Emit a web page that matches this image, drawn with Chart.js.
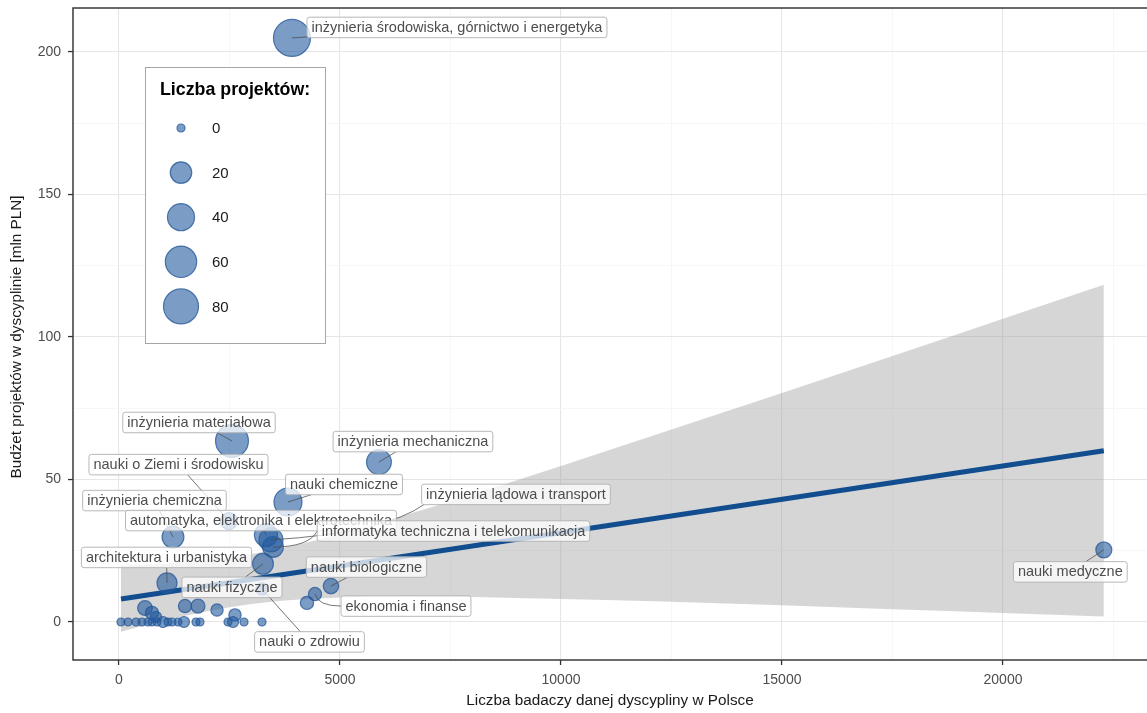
<!DOCTYPE html>
<html lang="pl">
<head>
<meta charset="utf-8">
<title>Budżet projektów a liczba badaczy w dyscyplinie</title>
<script src="https://cdn.jsdelivr.net/npm/chart.js@4.4.1/dist/chart.umd.min.js"></script>
<style>
  html, body { margin: 0; padding: 0; background: #ffffff; }
  #wrap { width: 1147px; height: 713px; }
</style>
</head>
<body>
<div id="wrap"><canvas id="chart" width="1147" height="713"></canvas></div>
<script>
// ---- dane: jedna pozycja na dyscyplinę (pusta nazwa = punkt bez etykiety) ----
const disciplines = [
  'inżynieria środowiska, górnictwo i energetyka',
  'inżynieria materiałowa',
  'inżynieria mechaniczna',
  'nauki chemiczne',
  'nauki o Ziemi i środowisku',
  'inżynieria chemiczna',
  'automatyka, elektronika i elektrotechnika',
  'informatyka techniczna i telekomunikacja',
  'inżynieria lądowa i transport',
  'architektura i urbanistyka',
  'nauki fizyczne',
  'nauki o zdrowiu',
  'nauki biologiczne',
  'ekonomia i finanse',
  'nauki medyczne',
  '', '', '', '', '', '', '', '',
  '', '', '', '', '', '', '', '', '', '', '', '', '', '', '', '', '', ''
];
// liczba badaczy danej dyscypliny w Polsce
const researchers = [
  3913, 2556, 5881, 3823, 2488, 1221, 3325, 3483, 3438, 1086, 3257, 3235, 4795, 4434, 22281,
  4253, 588, 746, 1493, 1787, 2217, 2624, 837,
  45, 204, 385, 520, 656, 746, 860, 995, 1108, 1199, 1335, 1470, 1742, 1832, 2466, 2579, 2828, 3235
];
// budżet projektów w dyscyplinie [mln PLN]
const budget = [
  204.9, 63.5, 56.1, 42.1, 35.4, 29.8, 30.5, 26.3, 28.8, 13.7, 20.4, 11.6, 12.6, 9.8, 25.3,
  6.7, 4.9, 3.2, 5.6, 5.6, 4.2, 2.5, 1.8,
  0, 0, 0, 0, 0, 0, 0, 0, 0, 0, 0, 0, 0, 0, 0, 0, 0, 0
];
// liczba projektów
const projects = [
  92, 68, 31, 44, 9, 21, 25, 18, 28, 16, 18, 2, 6, 3, 7,
  3, 5, 3, 3, 4, 2, 2, 1,
  0, 0, 0, 0, 0, 0, 0, 1, 0, 0, 0, 1, 0, 0, 0, 1, 0, 0
];

// linia trendu (regresja liniowa) i pasmo ufności
const trendX = [45, 22281];
const trendY = [8.1, 60.1];
const bandX     = [45,   1000, 2000, 3000, 4000, 5000, 6500, 8000, 10000, 12500, 15000, 17500, 20000, 22281];
const bandUpper = [19.8, 20.4, 21.8, 23.9, 27.0, 31.0, 37.6, 44.8, 54.7,  67.5,  80.3,  93.3,  106.4, 118.3];
const bandLower = [-3.4, 0.4,  3.8,  6.3,  7.8,  8.6,  9.0,  8.8,  8.1,   7.1,   5.9,   4.5,   3.2,   1.9];

// podziałki osi
const xMajorTicks = [0, 5000, 10000, 15000, 20000];
const xMinorTicks = [2500, 7500, 12500, 17500, 22500];
const yMajorTicks = [0, 50, 100, 150, 200];
const yMinorTicks = [25, 75, 125, 175];

// wartości pokazane w legendzie rozmiaru
const legendCounts = [0, 20, 40, 60, 80];

// ---- wygląd ----
const FONT = '"Liberation Sans", Arial, Helvetica, sans-serif';
const BUBBLE_FILL = 'rgba(33, 90, 158, 0.6)';
const BUBBLE_STROKE = 'rgba(38, 88, 152, 0.78)';
const TREND_COLOR = '#124e8f';
const BAND_COLOR = 'rgba(153, 153, 153, 0.4)';
const GRID_MAJOR = '#e6e6e6';
const GRID_MINOR = '#f3f3f3';

// skala rozmiaru: promień rośnie z pierwiastkiem liczby projektów
function sizeFor(n) { return 4 + 1.51 * Math.sqrt(n); }

// rozmieszczenie etykiet: przesunięcie środka ramki względem punktu [px],
// opcjonalnie punkt kontrolny krzywej (względem punktu) i koniec odnośnika (względem środka ramki)
const labelLayout = {
  'inżynieria środowiska, górnictwo i energetyka': { dx: 165, dy: -10.5 },
  'inżynieria materiałowa': { dx: -33, dy: -18.5 },
  'inżynieria mechaniczna': { dx: 34, dy: -20.5 },
  'nauki chemiczne': { dx: 56, dy: -17.5 },
  'nauki o Ziemi i środowisku': { dx: -50.5, dy: -56.5 },
  'inżynieria chemiczna': { dx: -18.5, dy: -36.5 },
  'automatyka, elektronika i elektrotechnika': { dx: -5, dy: -14.5 },
  'informatyka techniczna i telekomunikacja': { dx: 180.5, dy: -16, ctrl: [36, 0], end: 'left' },
  'inżynieria lądowa i transport': { dx: 245, dy: -45.5, ctrl: [114, -7], end: [-91, 9.5] },
  'architektura i urbanistyka': { dx: -0.5, dy: -25.5 },
  'nauki fizyczne': { dx: -31, dy: 23.5 },
  'nauki o zdrowiu': { dx: 47.5, dy: 53 },
  'nauki biologiczne': { dx: 35.5, dy: -19 },
  'ekonomia i finanse': { dx: 91, dy: 12, ctrl: [3, 12], end: 'left' },
  'nauki medyczne': { dx: -33.5, dy: 22 }
};

const bubblePoints = researchers.map((v, i) => ({ x: v, y: budget[i], r: sizeFor(projects[i]) }));
const trendPoints = trendX.map((v, i) => ({ x: v, y: trendY[i] }));
const upperPoints = bandX.map((v, i) => ({ x: v, y: bandUpper[i] }));
const lowerPoints = bandX.map((v, i) => ({ x: v, y: bandLower[i] }));

// przecięcie odcinka punkt -> środek ramki z brzegiem ramki
function clipToBox(px, py, cx, cy, w, h) {
  const dx = px - cx, dy = py - cy;
  const tx = dx !== 0 ? (w / 2) / Math.abs(dx) : Infinity;
  const ty = dy !== 0 ? (h / 2) / Math.abs(dy) : Infinity;
  const t = Math.min(tx, ty, 1);
  return { x: cx + dx * t, y: cy + dy * t };
}

function roundRect(ctx, x, y, w, h, r) {
  ctx.beginPath();
  ctx.moveTo(x + r, y);
  ctx.lineTo(x + w - r, y);
  ctx.arcTo(x + w, y, x + w, y + r, r);
  ctx.lineTo(x + w, y + h - r);
  ctx.arcTo(x + w, y + h, x + w - r, y + h, r);
  ctx.lineTo(x + r, y + h);
  ctx.arcTo(x, y + h, x, y + h - r, r);
  ctx.lineTo(x, y + r);
  ctx.arcTo(x, y, x + r, y, r);
  ctx.closePath();
}

// etykiety w ramkach z odnośnikami
const labelPlugin = {
  id: 'boxedLabels',
  afterDatasetsDraw(chart) {
    const { ctx, scales: { x, y } } = chart;
    const LABEL_FONT = '14.5px ' + FONT;
    const PADX = 4.5, BOX_H = 20.5;
    ctx.save();
    ctx.font = LABEL_FONT;
    const items = [];
    disciplines.forEach((name, i) => {
      const lay = labelLayout[name];
      if (!name || !lay) return;
      const px = x.getPixelForValue(researchers[i]);
      const py = y.getPixelForValue(budget[i]);
      const w = ctx.measureText(name).width + 2 * PADX;
      items.push({ name, px, py, cx: px + lay.dx, cy: py + lay.dy, w, h: BOX_H, lay });
    });

    // odnośniki
    ctx.strokeStyle = '#4a4a4a';
    ctx.lineWidth = 0.75;
    items.forEach(it => {
      let end;
      if (it.lay.end === 'left') end = { x: it.cx - it.w / 2, y: it.cy };
      else if (Array.isArray(it.lay.end)) end = { x: it.cx + it.lay.end[0], y: it.cy + it.lay.end[1] };
      else end = clipToBox(it.px, it.py, it.cx, it.cy, it.w, it.h);
      ctx.beginPath();
      ctx.moveTo(it.px, it.py);
      if (it.lay.ctrl) ctx.quadraticCurveTo(it.px + it.lay.ctrl[0], it.py + it.lay.ctrl[1], end.x, end.y);
      else ctx.lineTo(end.x, end.y);
      ctx.stroke();
    });

    // ramki i teksty
    ctx.textAlign = 'left';
    ctx.textBaseline = 'middle';
    items.forEach(it => {
      const l = it.cx - it.w / 2, t = it.cy - it.h / 2;
      roundRect(ctx, l, t, it.w, it.h, 2.5);
      ctx.fillStyle = 'rgba(255,255,255,0.75)';
      ctx.fill();
      ctx.strokeStyle = '#b0b0b0';
      ctx.lineWidth = 0.9;
      ctx.stroke();
      ctx.fillStyle = '#4d4d4d';
      ctx.fillText(it.name, l + PADX, it.cy + 0.5);
    });
    ctx.restore();
  }
};

// ramka panelu, tytuły osi i legenda rozmiaru
const framePlugin = {
  id: 'panelFrame',
  afterDraw(chart) {
    const { ctx, chartArea: a } = chart;
    ctx.save();
    // ramka panelu
    ctx.strokeStyle = '#3a3a3a';
    ctx.lineWidth = 1.5;
    ctx.strokeRect(a.left, a.top, a.right - a.left + 10, a.bottom - a.top);

    // tytuły osi
    ctx.fillStyle = '#1a1a1a';
    ctx.font = '15.3px ' + FONT;
    ctx.textAlign = 'center';
    ctx.textBaseline = 'middle';
    ctx.fillText('Liczba badaczy danej dyscypliny w Polsce', (a.left + a.right) / 2, 701);
    ctx.save();
    ctx.translate(17, (a.top + a.bottom) / 2 + 3);
    ctx.rotate(-Math.PI / 2);
    ctx.fillText('Budżet projektów w dyscyplinie [mln PLN]', 0, 0);
    ctx.restore();

    // legenda
    ctx.fillStyle = '#ffffff';
    ctx.fillRect(145.5, 67.5, 180, 276);
    ctx.strokeStyle = '#a6a6a6';
    ctx.lineWidth = 1;
    ctx.strokeRect(145.5, 67.5, 180, 276);
    ctx.fillStyle = '#000000';
    ctx.font = 'bold 17.8px ' + FONT;
    ctx.textAlign = 'left';
    ctx.fillText('Liczba projektów:', 160, 90);
    ctx.font = '15px ' + FONT;
    legendCounts.forEach((n, i) => {
      const cy = 128 + i * 44.6;
      ctx.beginPath();
      ctx.arc(181, cy, sizeFor(n), 0, Math.PI * 2);
      ctx.fillStyle = BUBBLE_FILL;
      ctx.fill();
      ctx.strokeStyle = BUBBLE_STROKE;
      ctx.lineWidth = 1.2;
      ctx.stroke();
      ctx.fillStyle = '#1a1a1a';
      ctx.fillText(String(n), 212, cy + 1);
    });
    ctx.restore();
  }
};

const isIn = (arr, v) => arr.indexOf(v) !== -1;
function gridColor(majors) {
  return c => (c.tick && isIn(majors, c.tick.value)) ? GRID_MAJOR : GRID_MINOR;
}
function gridWidth(majors) {
  return c => (c.tick && isIn(majors, c.tick.value)) ? 1.1 : 0.7;
}
function tickColor(majors) {
  return c => (c.tick && isIn(majors, c.tick.value)) ? '#333333' : 'rgba(0,0,0,0)';
}
// axis sizes are fixed so the panel sits at the same place regardless of label widths
function fixAxisSize(prop, size) {
  return s => {
    s[prop] = size;
    s.paddingTop = 0; s.paddingBottom = 0; s.paddingLeft = 0; s.paddingRight = 0;
  };
}

new Chart(document.getElementById('chart'), {
  type: 'bubble',
  data: {
    datasets: [
      {
        type: 'bubble',
        data: bubblePoints,
        backgroundColor: BUBBLE_FILL,
        borderColor: BUBBLE_STROKE,
        borderWidth: 1.2,
        hoverRadius: 0,
        order: 0
      },
      {
        type: 'line',
        data: trendPoints,
        borderColor: TREND_COLOR,
        borderWidth: 5,
        pointRadius: 0,
        fill: false,
        order: 1
      },
      {
        type: 'line',
        data: upperPoints,
        borderColor: 'rgba(0,0,0,0)',
        borderWidth: 0,
        pointRadius: 0,
        backgroundColor: BAND_COLOR,
        fill: '+1',
        cubicInterpolationMode: 'monotone',
        order: 2
      },
      {
        type: 'line',
        data: lowerPoints,
        borderColor: 'rgba(0,0,0,0)',
        borderWidth: 0,
        pointRadius: 0,
        fill: false,
        cubicInterpolationMode: 'monotone',
        order: 3
      }
    ]
  },
  options: {
    responsive: false,
    animation: false,
    devicePixelRatio: 1,
    events: [],
    layout: { autoPadding: false, padding: { top: 8, right: 0, bottom: 0, left: 0 } },
    plugins: {
      legend: { display: false },
      tooltip: { enabled: false }
    },
    scales: {
      x: {
        type: 'linear',
        min: -1041,
        max: 23258,
        afterFit: fixAxisSize('height', 53),
        afterBuildTicks(s) {
          s.ticks = xMajorTicks.concat(xMinorTicks).sort((a, b) => a - b).map(v => ({ value: v }));
        },
        border: { display: false },
        grid: {
          color: gridColor(xMajorTicks),
          lineWidth: gridWidth(xMajorTicks),
          tickColor: tickColor(xMajorTicks),
          tickLength: 5,
          tickWidth: 1.3
        },
        ticks: {
          autoSkip: false,
          maxRotation: 0,
          padding: 7,
          color: '#4d4d4d',
          font: { family: FONT, size: 14 },
          callback: v => isIn(xMajorTicks, v) ? String(v) : ''
        }
      },
      y: {
        type: 'linear',
        min: -13.33,
        max: 215.4,
        afterFit: fixAxisSize('width', 73),
        afterBuildTicks(s) {
          s.ticks = yMajorTicks.concat(yMinorTicks).sort((a, b) => a - b).map(v => ({ value: v }));
        },
        border: { display: false },
        grid: {
          color: gridColor(yMajorTicks),
          lineWidth: gridWidth(yMajorTicks),
          tickColor: tickColor(yMajorTicks),
          tickLength: 5,
          tickWidth: 1.3
        },
        ticks: {
          autoSkip: false,
          padding: 7,
          color: '#4d4d4d',
          font: { family: FONT, size: 14 },
          callback: v => isIn(yMajorTicks, v) ? String(v) : ''
        }
      }
    }
  },
  plugins: [labelPlugin, framePlugin]
});
</script>
</body>
</html>
